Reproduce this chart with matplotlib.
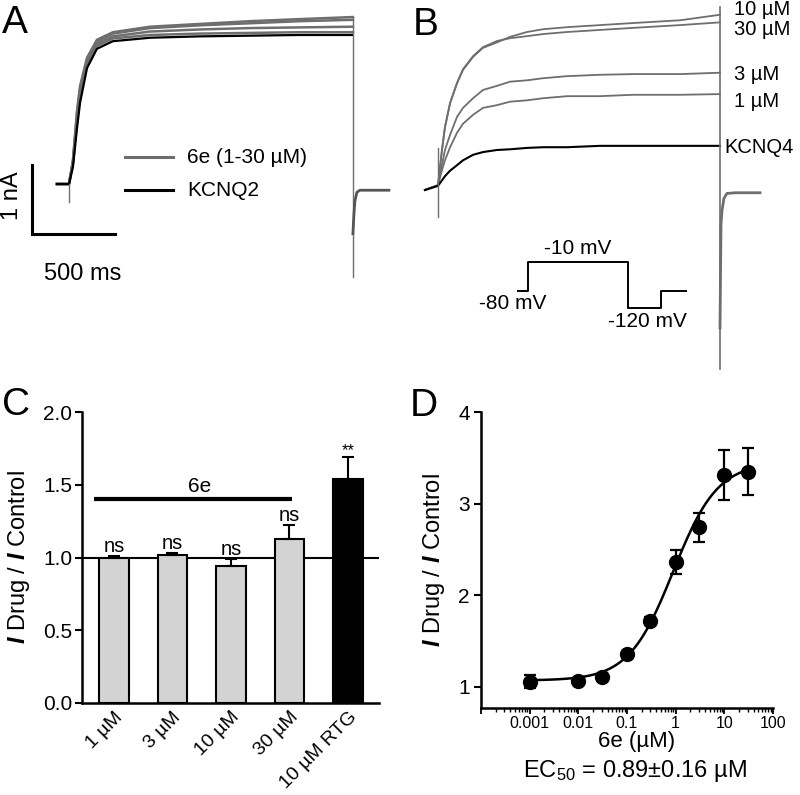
import numpy as np
import matplotlib
matplotlib.use("Agg")
import matplotlib.pyplot as plt
from matplotlib.ticker import LogLocator, FixedLocator, NullFormatter, FixedFormatter

plt.rcParams['font.family'] = ['Liberation Sans', 'DejaVu Sans']
plt.rcParams['mathtext.fontset'] = 'custom'
plt.rcParams['mathtext.rm'] = 'Liberation Sans'
plt.rcParams['mathtext.it'] = 'Liberation Sans:italic:bold'
plt.rcParams['mathtext.bf'] = 'Liberation Sans:bold'

GREY = '#6e6e6e'

# ---------------- Panel A data (time ms from step onset, current nA) ----------------
a_time = [-73, 0, 24, 48, 67, 109, 169, 266, 490, 793, 1095, 1398, 1718]
a_kcnq2 = [0, 0, 0.25, 0.80, 1.18, 1.68, 1.96, 2.07, 2.12, 2.14, 2.15, 2.16, 2.16]
a_6e_traces = [
    [0, 0, 0.35, 1.05, 1.42, 1.83, 2.09, 2.20, 2.28, 2.32, 2.36, 2.39, 2.42],
    [0, 0, 0.33, 1.00, 1.38, 1.80, 2.06, 2.18, 2.26, 2.30, 2.33, 2.36, 2.38],
    [0, 0, 0.31, 0.95, 1.33, 1.77, 2.03, 2.14, 2.21, 2.24, 2.26, 2.27, 2.28],
    [0, 0, 0.30, 0.90, 1.28, 1.74, 2.00, 2.11, 2.16, 2.18, 2.19, 2.20, 2.20],
]
a_onset_spike = -0.26
a_offset_spike = -1.35
a_tail_time = [1718, 1724, 1730, 1742, 1760, 1936]
a_tail = [-0.72, -0.45, -0.25, -0.12, -0.09, -0.09]
scale_nA = 1
scale_ms = 500

# ---------------- Panel B data ----------------
b_time = [-79, 0, 24, 42, 73, 115, 151, 212, 272, 357, 436, 538, 635, 780, 980, 1180, 1464, 1706]
b_labels = ["10 µM", "30 µM", "3 µM", "1 µM", "KCNQ4"]
b_10uM = [0, 0.07, 0.58, 0.91, 1.26, 1.55, 1.74, 1.93, 2.06, 2.14, 2.22, 2.29, 2.33, 2.36, 2.39, 2.42, 2.46, 2.54]
b_30uM = [0, 0.07, 0.58, 0.91, 1.26, 1.55, 1.75, 1.94, 2.07, 2.16, 2.20, 2.23, 2.26, 2.29, 2.32, 2.35, 2.39, 2.43]
b_3uM = [0, 0.07, 0.36, 0.58, 0.80, 1.06, 1.19, 1.33, 1.45, 1.51, 1.57, 1.59, 1.62, 1.65, 1.67, 1.68, 1.68, 1.70]
b_1uM = [0, 0.07, 0.29, 0.43, 0.62, 0.83, 0.96, 1.09, 1.19, 1.23, 1.28, 1.30, 1.33, 1.36, 1.36, 1.38, 1.38, 1.39]
b_kcnq4 = [0, 0.06, 0.14, 0.20, 0.28, 0.36, 0.43, 0.51, 0.55, 0.58, 0.59, 0.61, 0.62, 0.62, 0.64, 0.64, 0.64, 0.64]
b_label_y = [2.61, 2.32, 1.67, 1.28, 0.61]
b_onset_spike = (0.61, -0.39)
b_offset_spike = (2.65, -2.60)
b_tail_time = [1706, 1712, 1718, 1730, 1748, 1797, 1948]
b_tail = [-2.0, -0.5, -0.3, -0.12, -0.05, -0.04, -0.04]
# voltage protocol (schematic)
prot_dur = [100, 1000, 330, 250]
prot_mV = [-80, -10, -120, -80]

# ---------------- Panel C data ----------------
c_cats = ["1 µM", "3 µM", "10 µM", "30 µM", "10 µM RTG"]
c_means = [1.00, 1.02, 0.94, 1.13, 1.54]
c_sem = [0.01, 0.01, 0.05, 0.09, 0.15]
c_sig = ["ns", "ns", "ns", "ns", "**"]
c_colors = ['#d3d3d3', '#d3d3d3', '#d3d3d3', '#d3d3d3', 'black']

# ---------------- Panel D data ----------------
d_conc = [0.001, 0.01, 0.03, 0.1, 0.3, 1, 3, 10, 30]
d_ratio = [1.055, 1.06, 1.11, 1.36, 1.72, 2.36, 2.74, 3.31, 3.35]
d_sem = [0.07, 0.02, 0.02, 0.03, 0.04, 0.13, 0.16, 0.27, 0.26]
hill_bottom, hill_top, hill_ec50, hill_n = 1.07, 3.45, 0.89, 0.95

W, H = 800, 795
fig = plt.figure(figsize=(W / 100, H / 100), dpi=100)


def fax(x0, y0, x1, y1):
    """axes from pixel box (left, top, right, bottom)"""
    return fig.add_axes([x0 / W, 1 - y1 / H, (x1 - x0) / W, (y1 - y0) / H])


# ================= Panel A =================
axA = fax(0, 0, 400, 300)
axA.set_xlim(-417.5, 2003)
axA.set_ylim(-1.681, 2.667)
axA.axis('off')
for tr in a_6e_traces:
    axA.plot(a_time, tr, color=GREY, lw=1.8)
axA.plot(a_time, a_kcnq2, color='black', lw=1.6)
axA.plot([0, 0], [0, a_onset_spike], color=GREY, lw=1)
axA.plot([a_time[-1]] * 2, [max(t[-1] for t in a_6e_traces), a_offset_spike], color=GREY, lw=1)
axA.plot(a_tail_time, a_tail, color='#555555', lw=2)
sbx, sby = -224, -0.72
axA.plot([sbx, sbx, sbx + scale_ms], [sby + scale_nA, sby, sby], color='black', lw=2.2,
         solid_joinstyle='miter')
axA.text(-345, -0.17, "1 nA", rotation=90, ha='center', va='center', fontsize=17)
axA.text(82, -1.30, "500 ms", ha='center', va='center', fontsize=17)
axA.plot([339, 629], [0.39, 0.39], color=GREY, lw=2.2)
axA.plot([339, 629], [-0.087, -0.087], color='black', lw=2.2)
axA.text(714, 0.39, "6e (1-30 µM)", ha='left', va='center', fontsize=15)
axA.text(714, -0.087, "KCNQ2", ha='left', va='center', fontsize=15)

# ================= Panel B =================
axB = fax(400, 0, 800, 380)
axB.set_xlim(-230, 2190)
axB.set_ylim(-2.754, 2.754)
axB.axis('off')
for tr in [b_10uM, b_30uM, b_3uM, b_1uM]:
    axB.plot(b_time, tr, color=GREY, lw=1.3)
axB.plot(b_time, b_kcnq4, color='black', lw=1.5)
axB.plot([0, 0], b_onset_spike, color=GREY, lw=1)
axB.plot([b_time[-1]] * 2, b_offset_spike, color=GREY, lw=1.2)
axB.plot(b_tail_time, b_tail, color=GREY, lw=2)
for lab, y in zip(b_labels, b_label_y):
    x = 1730 if lab == "KCNQ4" else 1790
    axB.text(x, y, lab, ha='left', va='center', fontsize=14.5)

# voltage protocol inset
axP = fax(518, 262, 686, 308)
axP.axis('off')
pt = np.concatenate([[0], np.cumsum(prot_dur)])
px_, py_ = [], []
for i, v in enumerate(prot_mV):
    px_ += [pt[i], pt[i + 1]]
    py_ += [v, v]
axP.plot(px_, py_, color='black', lw=1.4, clip_on=False)
axP.set_xlim(0, pt[-1])
axP.set_ylim(-120, -10)
axP.annotate("-10 mV", xy=((pt[1] + pt[2]) / 2, -10), xytext=(0, 3), textcoords='offset points',
             ha='center', va='bottom', fontsize=15)
axP.annotate("-80 mV", xy=(0, -80), xytext=(-4, -2), textcoords='offset points',
             ha='center', va='top', fontsize=15)
axP.annotate("-120 mV", xy=((pt[2] + pt[3]) / 2, -120), xytext=(2, -3), textcoords='offset points',
             ha='center', va='top', fontsize=15)

# ================= Panel C =================
axC = fax(82, 412, 379, 703)
xc = np.arange(len(c_cats))
axC.bar(xc, c_means, width=0.5, color=c_colors, edgecolor='black', linewidth=1.5, zorder=2)
axC.errorbar(xc, c_means, yerr=[np.zeros(len(xc)), c_sem], fmt='none', ecolor='black',
             elinewidth=1.5, capsize=4, capthick=1.5, zorder=3)
axC.axhline(1.0, color='black', lw=1.5, zorder=1)
for x, m, s, lab in zip(xc, c_means, c_sem, c_sig):
    if lab == "**":
        axC.text(x, m + s + 0.015, lab, ha='center', va='baseline', fontsize=12)
    else:
        axC.text(x, m + s + 0.03, lab, ha='center', va='baseline', fontsize=14.5)
axC.plot([-0.34, 3.04], [1.40, 1.40], color='black', lw=3, solid_capstyle='butt')
axC.text(1.47, 1.45, "6e", ha='center', va='baseline', fontsize=15)
axC.set_xlim(-0.547, 4.53)
axC.set_ylim(0, 2.0)
axC.set_yticks([0, 0.5, 1.0, 1.5, 2.0])
axC.set_yticklabels(["0.0", "0.5", "1.0", "1.5", "2.0"], fontsize=15)
axC.set_xticks(xc)
axC.set_xticklabels(c_cats, rotation=45, ha='right', va='top', rotation_mode='anchor', fontsize=14)
axC.tick_params(axis='x', length=0, pad=4)
axC.tick_params(axis='y', length=5, width=1.5, direction='out', pad=2)
for sp in ['top', 'right']:
    axC.spines[sp].set_visible(False)
for sp in ['left', 'bottom']:
    axC.spines[sp].set_linewidth(1.8)
axC.set_ylabel(r"$\mathit{I}$ Drug / $\mathit{I}$ Control", fontsize=17, labelpad=8)

# ================= Panel D =================
axD = fax(481, 412, 773, 708)
axD.set_xscale('log')
axD.set_xlim(1e-4, 100)
axD.set_ylim(0.77, 4.0)
xf = np.logspace(np.log10(d_conc[0]), np.log10(d_conc[-1]), 300)
yf = hill_bottom + (hill_top - hill_bottom) / (1 + (hill_ec50 / xf) ** hill_n)
axD.plot(xf, yf, color='black', lw=1.8, zorder=2)
axD.errorbar(d_conc, d_ratio, yerr=d_sem, fmt='o', color='black', ms=10, elinewidth=1.6,
             capsize=4, capthick=1.6, zorder=3, clip_on=False)
axD.set_yticks([1, 2, 3, 4])
axD.set_yticklabels(["1", "2", "3", "4"], fontsize=15)
major = [1e-4, 1e-3, 1e-2, 1e-1, 1, 10, 100]
axD.xaxis.set_major_locator(FixedLocator(major))
axD.xaxis.set_major_formatter(FixedFormatter(["", "0.001", "0.01", "0.1", "1", "10", "100"]))
axD.xaxis.set_minor_locator(LogLocator(base=10, subs=np.arange(2, 10), numticks=20))
axD.xaxis.set_minor_formatter(NullFormatter())
axD.tick_params(axis='x', which='major', length=4, width=1.3, labelsize=11.5, pad=2)
axD.tick_params(axis='x', which='minor', length=3, width=1.0)
axD.tick_params(axis='y', length=5, width=1.5, pad=3)
for sp in ['top', 'right']:
    axD.spines[sp].set_visible(False)
for sp in ['left', 'bottom']:
    axD.spines[sp].set_linewidth(1.8)
axD.set_xlabel("6e (µM)", fontsize=16)
axD.xaxis.label.set_va('center')
axD.xaxis.set_label_coords((637 - 481) / 292, -(742 - 708) / 296)
axD.set_ylabel(r"$\mathit{I}$ Drug / $\mathit{I}$ Control", fontsize=17, labelpad=8)
fig.text(635 / W, 1 - 771 / H, r"EC$_{50}$ = 0.89±0.16 µM", ha='center', va='center', fontsize=17)

# panel letters
for letter, (x, y) in zip("ABCD", [(2, 33), (413, 35), (2, 415), (410, 416)]):
    fig.text(x / W, 1 - y / H, letter, fontsize=28, ha='left', va='baseline')

fig.savefig("out.png", dpi=100)
